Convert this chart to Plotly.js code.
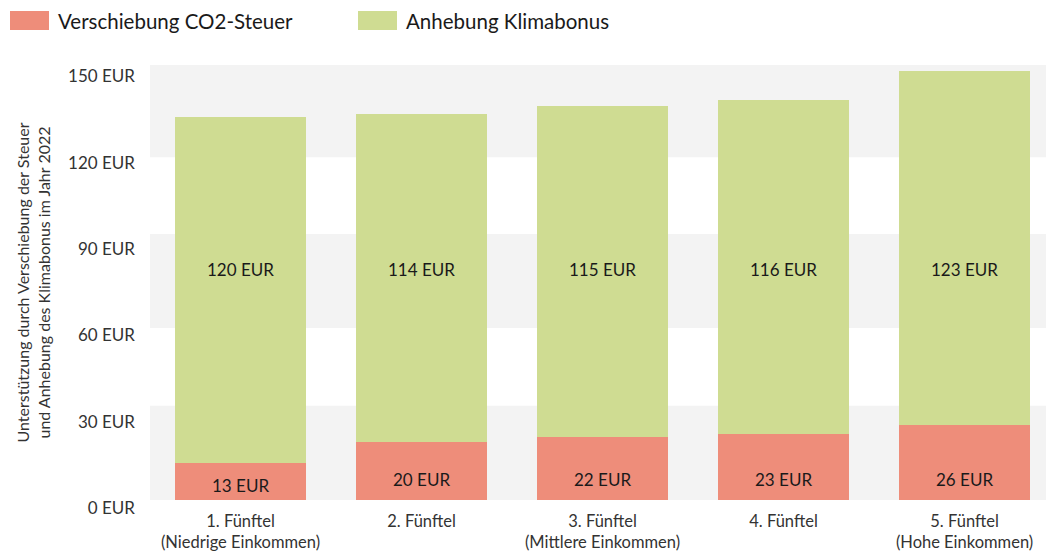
<!DOCTYPE html>
<html>
<head>
<meta charset="utf-8">
<script src="https://cdn.plot.ly/plotly-3.0.1.min.js"></script>
<style>html,body{margin:0;padding:0;background:#fff;}#chart{width:1046px;height:553px;}</style>
</head>
<body>
<div id="chart"></div>
<script>
const categories = ["1. Fünftel<br>(Niedrige Einkommen)", "2. Fünftel", "3. Fünftel<br>(Mittlere Einkommen)", "4. Fünftel", "5. Fünftel<br>(Hohe Einkommen)"];
const co2Steuer = [13, 20, 22, 23, 26];
const klimabonus = [120, 114, 115, 116, 123];
const seriesNames = ["Verschiebung CO2-Steuer", "Anhebung Klimabonus"];
const tickValues = [0, 30, 60, 90, 120, 150];
const tickLabels = ["0 EUR", "30 EUR", "60 EUR", "90 EUR", "120 EUR", "150 EUR"];

const RED = "#EE8D7A", GREEN = "#CFDC92", BAND = "#F3F3F3";
const FONT = "Lato, 'Open Sans', sans-serif";

const traces = [
  {type: "bar", name: seriesNames[0], x: categories, y: co2Steuer, marker: {color: RED}, hoverinfo: "skip"},
  {type: "bar", name: seriesNames[1], x: categories, y: klimabonus, marker: {color: GREEN}, hoverinfo: "skip"}
];

const annotations = [];
categories.forEach((c, i) => {
  annotations.push({x: c, y: Math.min(7, co2Steuer[i] - 8), xref: "x", yref: "y", text: co2Steuer[i] + " EUR",
    showarrow: false, font: {family: FONT, size: 17, color: "#1a1a1a"}, yanchor: "middle"});
  annotations.push({x: c, y: 80, xref: "x", yref: "y", text: klimabonus[i] + " EUR",
    showarrow: false, font: {family: FONT, size: 17, color: "#1a1a1a"}, yanchor: "middle"});
});
const W = 1046, H = 553, L = 150, T = 65, B = 53;
const pw = W - L, ph = H - T - B;
// legend
const legendItems = [{x0: 10, color: RED, name: seriesNames[0]}, {x0: 358, color: GREEN, name: seriesNames[1]}];
const shapes = [
  {type: "rect", xref: "paper", yref: "y", x0: 0, x1: 1, y0: 0, y1: 32.8, fillcolor: BAND, line: {width: 0}, layer: "below"},
  {type: "rect", xref: "paper", yref: "y", x0: 0, x1: 1, y0: 59.8, y1: 92.5, fillcolor: BAND, line: {width: 0}, layer: "below"},
  {type: "rect", xref: "paper", yref: "y", x0: 0, x1: 1, y0: 119.1, y1: 151.5, fillcolor: BAND, line: {width: 0}, layer: "below"}
];
legendItems.forEach(it => {
  shapes.push({type: "rect", xref: "paper", yref: "paper",
    x0: (it.x0 - L) / pw, x1: (it.x0 + 39 - L) / pw,
    y0: (H - B - 30) / ph, y1: (H - B - 11) / ph,
    fillcolor: it.color, line: {width: 0}});
  annotations.push({xref: "paper", yref: "paper", x: (it.x0 + 46 - L) / pw, y: (H - B - 21.5) / ph,
    xanchor: "left", yanchor: "middle", text: it.name, showarrow: false,
    font: {family: FONT, size: 20.5, color: "#1a1a1a"}});
});

const layout = {
  width: W, height: H,
  margin: {l: L, r: 0, t: T, b: B},
  barmode: "stack", bargap: 0.28,
  paper_bgcolor: "#fff", plot_bgcolor: "#fff",
  showlegend: false,
  xaxis: {range: [-0.5, 4.45], showgrid: false, zeroline: false, showline: false, ticks: "",
    ticklabelstandoff: 9,
    tickfont: {family: FONT, size: 16.5, color: "#333"}, fixedrange: true},
  yaxis: {range: [0, 151.2], showgrid: false, zeroline: false, showline: false, ticks: "",
    tickvals: tickValues, ticktext: tickLabels, ticklabelshift: 8, ticklabelstandoff: 14,
    tickfont: {family: FONT, size: 17, color: "#333"},
    title: {text: "Unterstützung durch Verschiebung der Steuer<br>und Anhebung des Klimabonus im Jahr 2022",
      font: {family: FONT, size: 16, color: "#333"}, standoff: 13}, fixedrange: true},
  shapes: shapes,
  annotations: annotations
};
Plotly.newPlot("chart", traces, layout, {displayModeBar: false, staticPlot: true});
</script>
</body>
</html>
